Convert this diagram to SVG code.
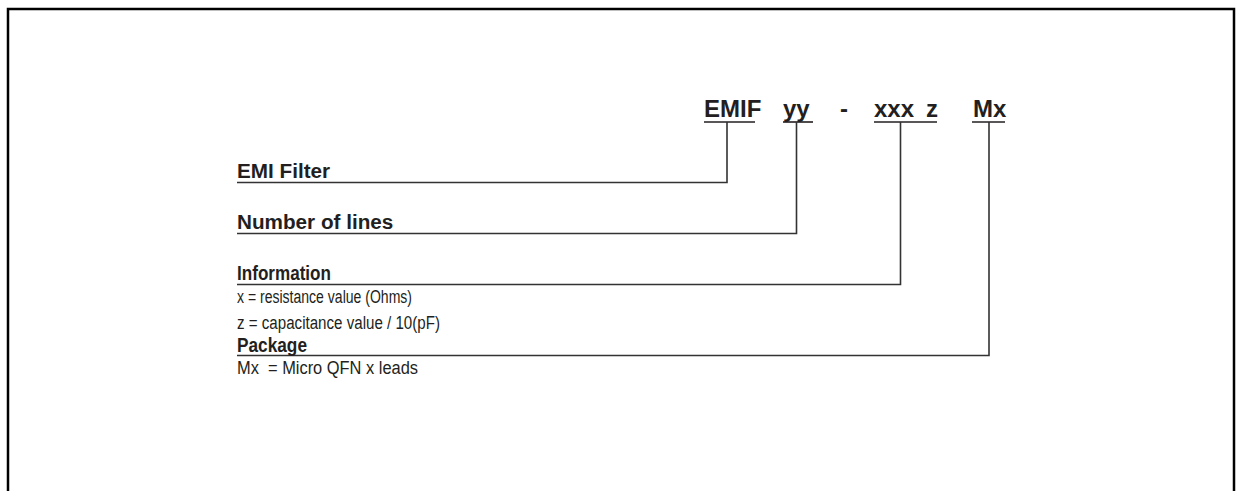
<svg xmlns="http://www.w3.org/2000/svg" width="1236" height="491" viewBox="0 0 1236 491">
<style>
.title{font-family:"Liberation Sans",Arial,sans-serif;font-weight:bold;font-size:24px;fill:#231f20}
.head{font-family:"Liberation Sans",Arial,sans-serif;font-weight:bold;font-size:20.7px;fill:#231f20}
.body{font-family:"Liberation Sans",Arial,sans-serif;font-size:18px;fill:#231f20}
.ul{stroke:#231f20;stroke-width:1.6;fill:none}
.conn{stroke:#333;stroke-width:1.6;fill:none}
</style>
<rect width="1236" height="491" fill="#fff"/>
<path d="M8,491 V9 H1234 V491" fill="none" stroke="#000" stroke-width="2.5"/>
<g id="code">
<text class="title" x="704" y="117">EMIF</text>
<text class="title" x="783" y="117">yy</text>
<text class="title" x="840" y="117">-</text>
<text class="title" x="874" y="117">xxx</text>
<text class="title" x="926" y="117">z</text>
<text class="title" x="973" y="117">Mx</text>
<line class="ul" x1="704" y1="122" x2="755" y2="122"/>
<line class="ul" x1="783" y1="122" x2="813" y2="122"/>
<line class="ul" x1="874" y1="122" x2="937" y2="122"/>
<line class="ul" x1="972" y1="122" x2="1005" y2="122"/>
</g>
<g id="connectors">
<polyline class="conn" points="727,122 727,182.5 237,182.5"/>
<polyline class="conn" points="796.5,122 796.5,233.5 237,233.5"/>
<polyline class="conn" points="900.5,122 900.5,284.5 237,284.5"/>
<polyline class="conn" points="989,122 989,355.5 237,355.5"/>
</g>
<g id="emi-filter">
<text class="head" x="237" y="178">EMI Filter</text>
</g>
<g id="number-of-lines">
<text class="head" x="237" y="228.5">Number of lines</text>
</g>
<g id="information">
<text class="head" x="237" y="280" textLength="94" lengthAdjust="spacingAndGlyphs">Information</text>
<text class="body" x="237" y="303" textLength="175" lengthAdjust="spacingAndGlyphs">x = resistance value (Ohms)</text>
<text class="body" x="237" y="329" textLength="203" lengthAdjust="spacingAndGlyphs">z = capacitance value / 10(pF)</text>
</g>
<g id="package">
<text class="head" x="237" y="352" textLength="70" lengthAdjust="spacingAndGlyphs">Package</text>
<text class="body" x="237" y="374" textLength="181" lengthAdjust="spacingAndGlyphs" xml:space="preserve">Mx  = Micro QFN x leads</text>
</g>
</svg>
